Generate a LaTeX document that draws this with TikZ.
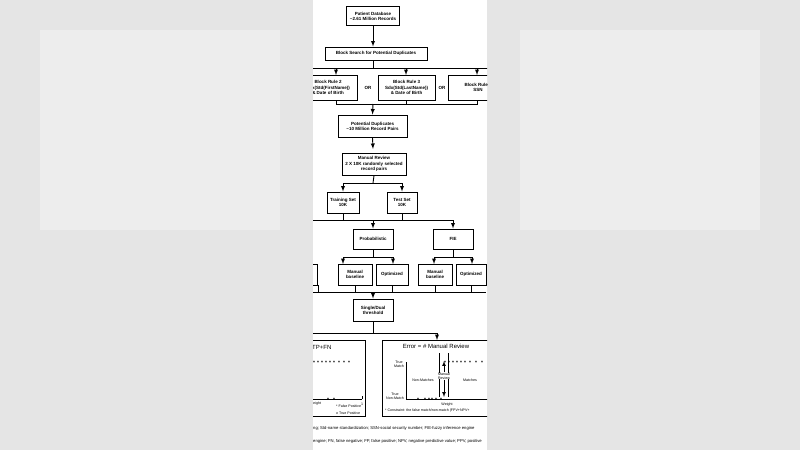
\documentclass[tikz,border=0pt]{standalone}
\usepackage{fontspec}
\setmainfont{Liberation Sans}
\begin{document}
\begin{tikzpicture}[x=1pt,y=-1pt,
  bx/.style={draw,line width=1pt,fill=white,align=center,font=\fontsize{4.5}{5.2}\selectfont\bfseries,inner sep=0pt},
  ln/.style={line width=0.9pt},
  ar/.style={line width=0.9pt,-latex},
  tx/.style={font=\fontsize{4.5}{5.2}\selectfont\bfseries,inner sep=0pt,align=center},
  sm/.style={font=\fontsize{3.6}{4.2}\selectfont,inner sep=0pt,align=center},
  dt/.style={font=\fontsize{5}{5}\selectfont\bfseries,inner sep=0pt}]
\useasboundingbox (0,0) rectangle (800,450);
\fill[gray!20] (0,0) rectangle (800,450);
\fill[gray!14] (40,30) rectangle (280,230);
\fill[gray!14] (520,30) rectangle (760,230);
\fill[white] (313,0) rectangle (487,450);
\begin{scope}
\clip (313,0) rectangle (487,450);
% nodes
\node[bx,minimum width=53pt,minimum height=19pt] (pd) at (373,16) {Patient Database\\\normalfont\bfseries \textasciitilde2.61 Million Records};
\node[bx,minimum width=102pt,minimum height=13pt] (bs) at (376,53.5) {Block Search for Potential Duplicates};
\node[bx,minimum width=58pt,minimum height=25pt] (b2) at (328,87.5) {Block Rule 2\\Sdx(Std(FirstName))\\\& Date of Birth};
\node[bx,minimum width=57pt,minimum height=25pt] (b3) at (406.5,87.5) {Block Rule 3\\Sdx(Std(LastName))\\\& Date of Birth};
\node[bx,minimum width=60pt,minimum height=25pt] (b4) at (478,87.5) {Block Rule 4\\SSN};
\node[tx] (or1) at (368,88) {OR};
\node[tx] (or2) at (442,88) {OR};
\node[bx,minimum width=69pt,minimum height=22pt] (dup) at (372.5,126) {Potential Duplicates\\\textasciitilde10 Million Record Pairs};
\node[bx,minimum width=64pt,minimum height=22pt] (mr) at (374,164) {Manual Review\\2 X 10K randomly selected\\record pairs};
\node[bx,minimum width=32pt,minimum height=21pt] (tr) at (343,202.5) {Training Set\\10K};
\node[bx,minimum width=30pt,minimum height=21pt] (te) at (402,202.5) {Test Set\\10K};
\node[bx,minimum width=40pt,minimum height=20pt] (pr) at (373,239) {Probabilistic};
\node[bx,minimum width=40pt,minimum height=20pt] (fie) at (453,239) {FIE};
\node[bx,minimum width=34pt,minimum height=21pt] (lo) at (300,274.5) {Optimized};
\node[bx,minimum width=34pt,minimum height=21pt] (pm) at (355,274.5) {Manual\\baseline};
\node[bx,minimum width=32pt,minimum height=21pt] (po) at (392,274.5) {Optimized};
\node[bx,minimum width=34pt,minimum height=21pt] (fm) at (435,274.5) {Manual\\baseline};
\node[bx,minimum width=30pt,minimum height=21pt] (fo) at (471,274.5) {Optimized};
\node[bx,minimum width=40pt,minimum height=22pt] (sd) at (373,310) {Single/Dual\\threshold};
% connectors
\draw[ar] (pd.south) -- (pd.south |- bs.north);
\draw[ln] (373,60) -- (373,68);
\draw[ln] (300,68) -- (490,68);
\draw[ar] (336,68) -- (336,75);
\draw[ar] (406,68) -- (406,75);
\draw[ar] (477,68) -- (477,75);
\draw[ln] (336,100) -- (336,104) -- (477,104) -- (477,100);
\draw[ln] (406,100) -- (406,104);
\draw[ar] (373,104) -- (dup.north);
\draw[ar] (dup.south) -- (373,149);
\draw[ln] (mr.south) -- (373,183);
\draw[ln] (343,183) -- (403,183);
\draw[ar] (343,183) -- (tr.north);
\draw[ar] (402,183) -- (te.north);
\draw[ln] (tr.south) -- (343,220);
\draw[ln] (te.south) -- (402,220);
\draw[ln] (300,220) -- (454,220);
\draw[ar] (373,220) -- (pr.north);
\draw[ar] (453,220) -- (fie.north);
\draw[ln] (pr.south) -- (373,257);
\draw[ln] (343,257) -- (393,257);
\draw[ar] (343,257) -- (343,264);
\draw[ar] (393,257) -- (393,264);
\draw[ln] (fie.south) -- (453,257);
\draw[ln] (434,257) -- (472,257);
\draw[ar] (434,257) -- (434,264);
\draw[ar] (472,257) -- (472,264);
\draw[ln] (300,292) -- (486,292);
\foreach \xx in {318,355,392,435,471} \draw[ln] (\xx,285) -- (\xx,292);
\draw[ar] (373,292) -- (sd.north);
\draw[ln] (sd.south) -- (373,333);
\draw[ln] (300,333) -- (437,333);
% left panel
\draw[line width=1pt] (270,340) rectangle (365,416);
\node[tx,anchor=west,font=\fontsize{6}{7}\selectfont] (ltt) at (312,347) {TP+FN};
\foreach \xx in {314,318,...,334} \node[dt] at (\xx,363) {*};
\foreach \xx in {339,344,349} \node[dt] at (\xx,363) {*};
\draw[line width=0.8pt] (300,399) -- (362,399);
\draw[line width=0.8pt] (362,396) -- (362,399);
\foreach \xx in {328,334} \node[dt] at (\xx,400) {*};
\node[sm,anchor=west] at (313,404) {eight};
\node[sm] at (362,404) {1};
\node[sm,anchor=west] at (336,406) {* False Positive};
\node[sm,anchor=west] at (336,413) {o True Positive};
% error panel
\node[draw,line width=1pt,minimum width=120pt,minimum height=76pt,anchor=north west,inner sep=0pt] (ep) at (382,340) {};
\draw[ar] (437,333) -- (437,340);
\node[tx,font=\fontsize{6}{7}\selectfont\normalfont] (et) at (436,346) {Error = \# Manual Review};
\draw[line width=0.8pt] (406,362) -- (406,399) -- (490,399);
\node[sm,anchor=east] at (404,364) {True\\Match};
\node[sm,anchor=east] at (404,396) {True\\Non-Match};
\draw[line width=0.6pt] (439,353) -- (439,397);
\draw[line width=0.6pt] (448,353) -- (448,397);
\node[sm] (nm) at (423,380) {Non-Matches};
\node[sm] (mm) at (470,380) {Matches};
\node[sm,fill=white] (mrv) at (444,376) {Manual\\Review};
\draw[line width=0.7pt,-latex] (mrv.south) -- (444,397);
\draw[line width=0.7pt,-latex] (mrv.north) -- (444,361);
\foreach \xx in {445,449,...,465} \node[dt] at (\xx,363) {*};
\foreach \xx in {470,476,482} \node[dt] at (\xx,363) {*};
\foreach \xx in {418,425,429,432,436,441} \node[dt] at (\xx,400) {*};
\node[sm] at (447,405) {Weight};
\node[sm,anchor=west] at (385,411) {* Constraint: the false match/non-match (FPV+NPV+};
% footer
\node[sm,anchor=west,font=\fontsize{4.2}{5}\selectfont] at (313,428) {ng; Std-name standardization; SSN-social security number; FIE-fuzzy inference engine};
\node[sm,anchor=west,font=\fontsize{4.2}{5}\selectfont] at (313,441) {engine; FN, false negative; FP, false positive; NPV, negative predictive value; PPV, positive};
\end{scope}
\end{tikzpicture}
\end{document}
